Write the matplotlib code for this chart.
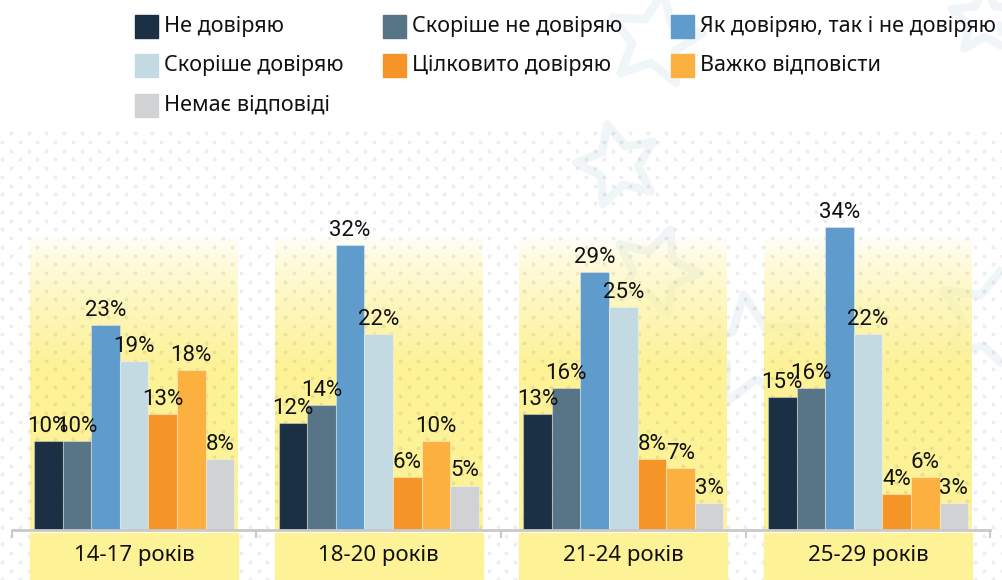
import matplotlib.pyplot as plt
import numpy as np
from matplotlib.patches import Rectangle, Polygon

# data
groups = ['14-17 років', '18-20 років', '21-24 років', '25-29 років']
answers = ['Не довіряю', 'Скоріше не довіряю', 'Як довіряю, так і не довіряю',
           'Скоріше довіряю', 'Цілковито довіряю', 'Важко відповісти', 'Немає відповіді']
ne_doviryayu = [10, 12, 13, 15]
skorishe_ne = [10, 14, 16, 16]
yak_tak_i_ne = [23, 32, 29, 34]
skorishe_tak = [19, 22, 25, 22]
tsilkovyto = [13, 6, 8, 4]
vazhko = [18, 10, 7, 6]
nemaye = [8, 5, 3, 3]
series = [ne_doviryayu, skorishe_ne, yak_tak_i_ne, skorishe_tak, tsilkovyto, vazhko, nemaye]
colors = ['#1b2f45', '#587487', '#5f9bcb', '#c4dae3', '#f59427', '#fbb040', '#d1d2d4']

W, H = 1002, 580
PX = 8.9          # pixels per percent
GROUP = 244.67    # pixels between group centres
YELLOW = '#fdf296'
label_font = ['Roboto', 'DejaVu Sans']
text_font = ['Noto Sans', 'DejaVu Sans']

fig = plt.figure(figsize=(W / 100, H / 100), dpi=100)

# background: pixel coordinates
bg = fig.add_axes([0, 0, 1, 1])
bg.set_xlim(0, W)
bg.set_ylim(H, 0)
bg.axis('off')


def star(cx, cy, r, rot):
    ang = np.deg2rad(rot) + np.arange(10) * np.pi / 5
    rr = np.where(np.arange(10) % 2 == 0, r, r * 0.48)
    return np.column_stack([cx + rr * np.sin(ang), cy - rr * np.cos(ang)])


for cx, cy, r, rot in [(655, 40, 48, 10), (618, 165, 42, -15), (655, 272, 45, 20),
                       (752, 352, 58, -8), (990, 320, 55, 15), (985, 20, 35, 0)]:
    bg.add_patch(Polygon(star(cx, cy, r, rot), closed=True, fill=False,
                         ec='#f0f5f8', lw=6, joinstyle='round'))

# chart axes
ax = fig.add_axes([0, 0, 1, 1])
ax.set_facecolor('none')

# yellow gradient panels
t = np.linspace(0, 1, 300)
alpha = np.clip(t / 0.45, 0, 1) ** 0.7
grad = np.zeros((300, 1, 4))
grad[:, 0, :3] = np.array([253, 242, 150]) / 255
grad[:, 0, 3] = alpha
for i in range(len(groups)):
    ax.imshow(grad, extent=[i - 0.425, i + 0.425, 0, 293 / PX], aspect='auto',
              zorder=0, interpolation='bilinear')

# dot pattern
ys = np.arange(133, H + 5, 8.75)
dx, dy = [], []
for k, y in enumerate(ys):
    xs = np.arange(2 + (8.85 if k % 2 == 0 else 0), W + 5, 17.7)
    dx.extend(xs)
    dy.extend([y] * len(xs))
ax.scatter(dx, dy, s=8, color='k', alpha=0.07, lw=0, transform=bg.transData, zorder=0.5)

# category boxes
for i, g in enumerate(groups):
    ax.add_patch(Rectangle((i - 0.425, -50 / PX), 0.85, 47 / PX, color=YELLOW, zorder=1))
    ax.text(i, -25 / PX, g, ha='center', va='center', fontsize=16,
            family=text_font, color='#111111', zorder=3)

# bars
bw = 28.6 / GROUP
offsets = (np.arange(len(series)) - 3) * bw
x = np.arange(len(groups))
for j, vals in enumerate(series):
    ax.bar(x + offsets[j], vals, width=bw, color=colors[j],
           edgecolor=(1, 1, 1, 0.35), lw=0.8, zorder=2)
    for xi, v in zip(x + offsets[j], vals):
        ax.text(xi, v + 9 / PX, f'{v}%', ha='center', va='baseline', fontsize=16,
                family=label_font, color='#111111', zorder=3)

# axis line with ticks
for s in ['top', 'left', 'right']:
    ax.spines[s].set_visible(False)
ax.spines['bottom'].set_position(('data', 0))
ax.spines['bottom'].set_bounds(-0.5, 3.5)
ax.spines['bottom'].set_color('#c9c9c9')
ax.spines['bottom'].set_linewidth(2)
ax.set_xticks([-0.5, 0.5, 1.5, 2.5, 3.5])
ax.tick_params(axis='x', direction='out', length=6, width=1.5, color='#c9c9c9',
               labelbottom=False)
ax.set_yticks([])
ax.set_xlim(-134 / GROUP, (W - 134) / GROUP)
ax.set_ylim(-50 / PX, 530 / PX)

# legend (row-wise, three columns)
col_x = [135, 383, 671]
row_y = [26.5, 65.5, 105]
for k, (lab, c) in enumerate(zip(answers, colors)):
    px, py = col_x[k % 3], row_y[k // 3]
    bg.add_patch(Rectangle((px, py - 11.5), 23, 23, color=c, zorder=3))
    bg.text(px + 29, py, lab, ha='left', va='center', fontsize=15.5,
            family=text_font, color='#111111', zorder=3)

fig.savefig('out.png', dpi=100)
